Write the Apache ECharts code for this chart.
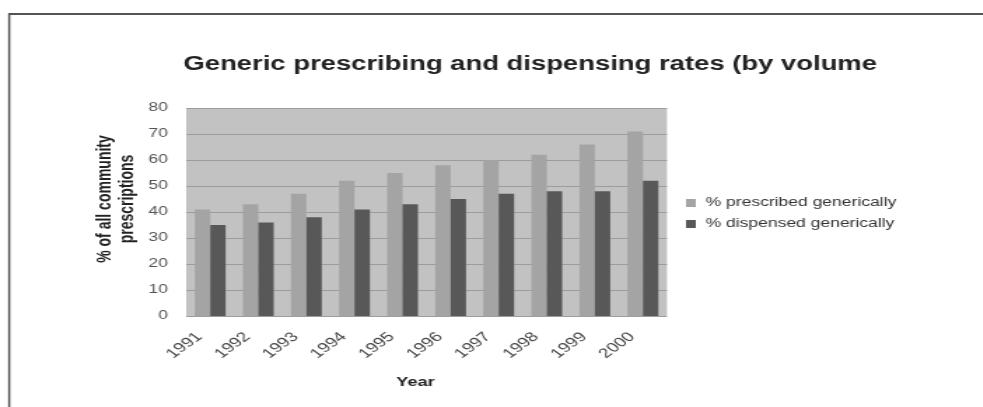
<!DOCTYPE html>
<html>
<head>
<meta charset="utf-8">
<script src="https://cdn.jsdelivr.net/npm/echarts@6/dist/echarts.min.js"></script>
<style>
  html, body { margin: 0; padding: 0; background: #fff; overflow: hidden; }
  #wrap { width: 983px; height: 407px; overflow: hidden; }
  /* the chart is laid out narrow and widened, giving the broad lettering of the original figure */
  #chart { width: 702px; height: 407px; transform: scaleX(1.4); transform-origin: 0 0; }
</style>
</head>
<body>
<div id="wrap"><div id="chart"></div></div>
<script>
// Generic prescribing vs dispensing, share of community prescriptions by year
const years = ['1991', '1992', '1993', '1994', '1995', '1996', '1997', '1998', '1999', '2000'];
const prescribedGenerically = [41, 43, 47, 52, 55, 58, 60, 62, 66, 71];
const dispensedGenerically = [35, 36, 38, 41, 43, 45, 47, 48, 48, 52];
const yTicks = [0, 10, 20, 30, 40, 50, 60, 70, 80];

const chart = echarts.init(document.getElementById('chart'));
const font = '"Liberation Sans", Arial, sans-serif';

chart.setOption({
  animation: false,
  backgroundColor: '#ffffff',
  textStyle: { fontFamily: font },
  title: {
    text: 'Generic prescribing and dispensing rates (by volume',
    left: 126,
    top: 50,
    textStyle: { fontFamily: font, fontSize: 19.6, fontWeight: 'bold', color: '#222' }
  },
  graphic: [
    // outer frame (top and left edges)
    { type: 'line', shape: { x1: 6.4, y1: 14, x2: 702, y2: 14 }, style: { stroke: '#555', lineWidth: 2 } },
    { type: 'line', shape: { x1: 6.6, y1: 13, x2: 6.6, y2: 407 }, style: { stroke: '#555', lineWidth: 1.5 } },
    // value-axis title, two lines
    {
      type: 'text', x: 75, y: 199, rotation: Math.PI / 2,
      style: { text: '% of all community', fontFamily: font, fontSize: 14, fontWeight: 'bold',
               fill: '#222', textAlign: 'center', textVerticalAlign: 'middle' }
    },
    {
      type: 'text', x: 91.4, y: 199, rotation: Math.PI / 2,
      style: { text: 'prescriptions', fontFamily: font, fontSize: 14, fontWeight: 'bold',
               fill: '#222', textAlign: 'center', textVerticalAlign: 'middle' }
    }
  ],
  legend: {
    orient: 'vertical',
    left: 485,
    top: 191.5,
    itemWidth: 7,
    itemHeight: 8,
    itemGap: 8,
    icon: 'rect',
    textStyle: { fontFamily: font, fontSize: 12.5, color: '#333', padding: [0, 0, 0, 2] },
    data: ['% prescribed generically', '% dispensed generically']
  },
  grid: {
    left: 133,
    right: 225.6,
    top: 108,
    bottom: 91,
    show: true,
    backgroundColor: '#c2c2c2',
    borderWidth: 0
  },
  xAxis: {
    type: 'category',
    data: years,
    name: 'Year',
    nameLocation: 'middle',
    nameGap: 60,
    nameTextStyle: { fontFamily: font, fontSize: 13, fontWeight: 'bold', color: '#222', padding: [0, 16, 0, 0] },
    axisTick: { show: false },
    axisLine: { show: false },
    axisLabel: { rotate: 45, fontSize: 13.5, color: '#444', margin: 11, interval: 0, padding: [0, 11, 0, 0] }
  },
  yAxis: {
    type: 'value',
    min: yTicks[0],
    max: yTicks[yTicks.length - 1],
    interval: 10,
    axisLine: { show: false },
    axisTick: { show: false },
    axisLabel: { fontSize: 12.5, color: '#555', margin: 13 },
    splitLine: { lineStyle: { color: '#9c9c9c', width: 1 } }
  },
  series: [
    {
      name: '% prescribed generically',
      type: 'bar',
      data: prescribedGenerically,
      barWidth: 11,
      barGap: '0%',
      itemStyle: { color: '#a4a4a4' }
    },
    {
      name: '% dispensed generically',
      type: 'bar',
      data: dispensedGenerically,
      barWidth: 11,
      barGap: '0%',
      itemStyle: { color: '#585858' }
    }
  ]
});
</script>
</body>
</html>
